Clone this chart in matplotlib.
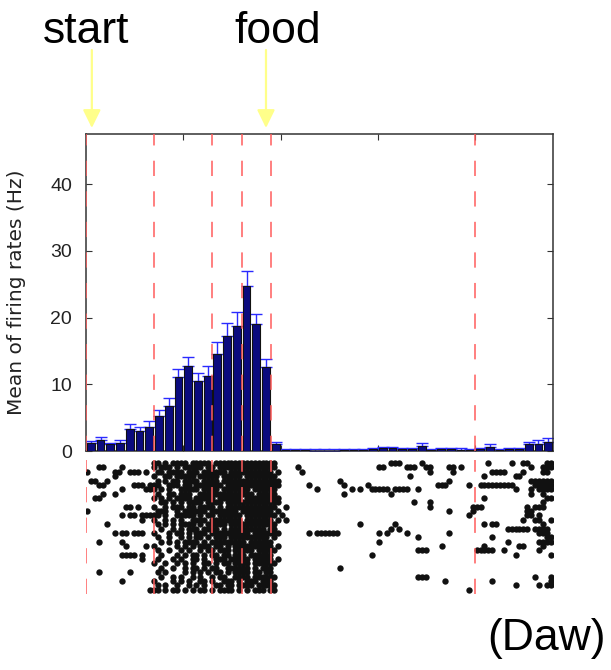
import numpy as np
import matplotlib
matplotlib.use("Agg")
import matplotlib.pyplot as plt

# ---------------- data ----------------
bar_heights = [1.2, 1.6, 1.0, 1.2, 3.3, 3.0, 3.6, 5.2, 6.8, 11.1, 12.7, 10.5, 11.3, 14.5, 17.2, 18.8,
               24.7, 19.1, 12.6, 1.1,
               0.1, 0.1, 0.1, 0.05, 0.05, 0.05, 0.1, 0.1, 0.1, 0.3, 0.4, 0.4, 0.3, 0.3, 0.7, 0.1,
               0.3, 0.3, 0.2, 0.15, 0.3, 0.6, 0.1, 0.3, 0.3, 1.0, 1.1, 1.3]
bar_errors = [0.3, 0.5, 0.25, 0.4, 0.7, 0.6, 0.9, 0.9, 1.2, 1.2, 1.4, 1.2, 1.5, 1.8, 2.0, 2.0,
              2.2, 1.5, 1.2, 0.3,
              0.2, 0.2, 0.2, 0.2, 0.2, 0.2, 0.2, 0.2, 0.2, 0.2, 0.2, 0.2, 0.2, 0.2, 0.5, 0.2,
              0.2, 0.2, 0.2, 0.2, 0.2, 0.4, 0.2, 0.2, 0.2, 0.3, 0.5, 0.6]
event_bins = [0, 7, 13, 16, 19, 40]
y_ticks = [0, 10, 20, 30, 40]
x_ticks = [10, 20, 30, 40]
arrow_labels = ["start", "food"]
arrow_x = [0.6, 18.5]
text_x = [0.0, 19.7]
ylabel = "Mean of firing rates (Hz)"
credit = "(Daw)"

# raster: one string per trial, '#' = spike, each column = 0.4 bin
raster_dense = [
    "##.#.####.#####.################",
    "#.###.#.#####.##.###############.",
    ".##.####.###.######.###########.#",
    "#..##.#####.#####.#####.########",
    ".#.#.##.####.####.###############",
    "##..###.##.#######.##############",
    "#.#.#..#####.####.#######.######.",
    ".#..##.###..##############.#####",
    "#.#.#.####.#####.######.#########",
    "..##.#.#.####.####.##############",
    "#..#.###.##.####.#.#############.",
    ".###..#.######.#######.########.#",
    "##.#..#####.#.##.######.########",
    "#..#.#.#..####.########.#######.#",
    ".#.#.#.####.#.#####.############",
    "..#..#.#.###.####.#.#########.##.",
    "#...#.##.#.###.##########.#######",
    ".#..#..#.#.##.#.###.##########.#",
    "..#.#.#.####.#.#########.######.",
    "#.....#.#.#.###.##.#.##########.#",
    ".#..#..#.#..#.##.###.#####.#####",
    "..#...#.#.##.#.##.##.###.######.",
    ".#...#.#..##.#..###.#####.#####.#",
    "#..#..#.#.#..##.#.##.####.######",
    "..#..#..#.##.#.##..######.#.###.",
    ".#.#....#.#.#.#.##.#.####.##.##.",
    "..#..#.#..#.#..#.##..####.######",
    "#....#.#.#..##.#..###.#.###.###.",
    ".#.#..#..#.#.#..##.##.####.#####",
    "##.#.##.#.#.##.#.####.#.#.###.##",
]
raster_dense_start = 17
raster_sparse = [
    [78, 79, 80, 86, 103, 109, 112, 113, 118, 119],
    [3, 4, 9, 54, 75, 76, 82, 83, 84, 87, 88, 93, 94, 96, 114, 117, 118, 119],
    [0, 7, 8, 11, 12, 13, 15, 55, 88, 94, 104, 105, 106, 107, 112, 117, 118],
    [7, 83, 102, 110, 111],
    [1, 2, 5, 65, 93, 114, 115, 116, 117, 118, 119],
    [3, 4, 12, 13, 14, 16, 57, 66, 72, 90, 91, 92, 98, 101, 102, 103, 104, 105, 106, 107, 108, 109,
     115, 116, 117, 118, 119],
    [9, 15, 16, 59, 68, 70, 73, 74, 75, 76, 77, 79, 80, 81, 82, 85, 110, 114, 116, 117, 118, 119],
    [4, 7, 66, 78, 114, 117],
    [2, 3, 102, 118, 119],
    [84, 88, 117],
    [10, 11, 13, 51, 88, 99, 100, 101, 113, 115, 116, 117],
    [0, 49, 93, 99, 113, 114],
    [9, 11, 12, 14, 15, 16, 50, 98, 113, 114, 116],
    [14, 51, 112, 115, 116, 119],
    [5, 70, 79, 102, 104, 105, 117],
    [78, 80, 108, 109, 110, 111, 112, 113, 115, 116, 117, 118],
    [7, 9, 10, 12, 13, 14, 57, 59, 60, 61, 62, 63, 64, 75, 77, 82, 93, 116, 117, 118],
    [85, 104, 118, 119],
    [3, 9, 75, 108, 116, 117, 118, 119],
    [10, 15, 91, 102, 111, 112, 117],
    [85, 86, 87, 100, 101, 102, 103, 104, 107, 116],
    [9, 10, 11, 12, 14, 73, 110, 119],
    [14],
    [],
    [65],
    [3, 11],
    [85, 86, 87, 115, 119],
    [9, 92, 104, 119],
    [110, 116, 118, 119],
    [16, 98],
]
col_width = 0.4
n_bins = 48
y_max = 47.5

# ---------------- figure ----------------
W, H = 611, 670
fig = plt.figure(figsize=(W / 100, H / 100), dpi=100)
plt.rcParams['font.family'] = ['Liberation Sans', 'DejaVu Sans']

ax = fig.add_axes([86 / W, (H - 451) / H, 467 / W, 317 / H])
rax = fig.add_axes([86 / W, (H - 594) / H, 467 / W, 134 / H])

x = np.arange(len(bar_heights)) + 0.5
ax.errorbar(x, bar_heights, yerr=[np.zeros(len(bar_errors)), bar_errors], fmt='none',
            ecolor='#2a2aff', elinewidth=1.0, capsize=4.5, capthick=1.0, zorder=2)
ax.bar(x, bar_heights, width=0.8, color='#0b0b7e', edgecolor='#111111', linewidth=0.8, zorder=3)

for e in event_bins:
    ax.axvline(e, color='#ff5c5c', lw=1.1, linestyle=(0, (10, 10)), zorder=4)
    rax.axvline(e, color='#ff5c5c', lw=1.1, linestyle=(0, (10, 10)), zorder=3)

ax.set_xlim(0, n_bins)
ax.set_ylim(0, y_max)
ax.set_yticks(y_ticks)
ax.set_xticks(x_ticks)
ax.set_xticklabels([])
ax.tick_params(axis='both', direction='in', length=4, width=0.8, color='#333333',
               top=True, right=True, labelsize=14, labelcolor='#222222')
ax.tick_params(axis='y', pad=10)
for s in ax.spines.values():
    s.set_color('#333333')
    s.set_linewidth(1.1)
ax.set_ylabel(ylabel, fontsize=14.5, family=['DejaVu Sans'], color='#222222')
ax.yaxis.set_label_coords(-0.128, 0.5)

# raster
xs, ys = [], []
for r, (dense, sparse) in enumerate(zip(raster_dense, raster_sparse)):
    cols = set(sparse)
    cols.update(raster_dense_start + i for i, ch in enumerate(dense) if ch == '#')
    for c in sorted(cols):
        xs.append(c * col_width + 0.15)
        ys.append(r)
rax.scatter(xs, ys, s=21, marker='o', color='#111111', linewidths=0, zorder=2)
rax.set_xlim(0, n_bins)
rax.set_ylim(30.0, -0.7)
rax.axis('off')

# annotations
for lab, ax_x, tx in zip(arrow_labels, arrow_x, text_x):
    ax.annotate('', xy=(ax_x, 1 - 128 / H), xytext=(ax_x, 1 - 50 / H),
                xycoords=('data', 'figure fraction'), textcoords=('data', 'figure fraction'),
                arrowprops=dict(arrowstyle='-|>,head_length=0.55,head_width=0.27',
                                color='#ffff8a', lw=1.6, mutation_scale=20, shrinkA=0, shrinkB=0),
                annotation_clip=False)
    ax.annotate(lab, xy=(tx, 1 - 43 / H), xycoords=('data', 'figure fraction'),
                ha='center', va='baseline', fontsize=32, color='black', annotation_clip=False)

fig.text(546 / W, 1 - 650 / H, credit, ha='center', va='baseline', fontsize=32, color='black')

fig.savefig('out.png', dpi=100)
